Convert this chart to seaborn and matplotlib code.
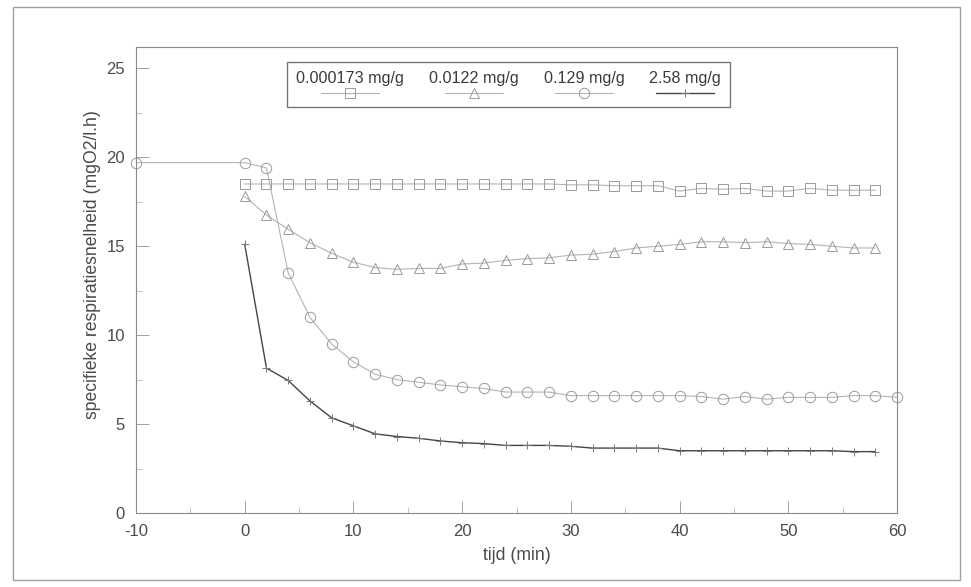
import matplotlib
matplotlib.use("Agg")
import matplotlib.pyplot as plt
import seaborn as sns
import numpy as np
import pandas as pd
from matplotlib.patches import Rectangle
from matplotlib.offsetbox import VPacker
from matplotlib.ticker import MultipleLocator

# ---------------- data ----------------
labels = ["0.000173 mg/g", "0.0122 mg/g", "0.129 mg/g", "2.58 mg/g"]

x_sq = [0, 2, 4, 6, 8, 10, 12, 14, 16, 18, 20, 22, 24, 26, 28, 30, 32, 34, 36, 38,
        40, 42, 44, 46, 48, 50, 52, 54, 56, 58]
y_sq = [18.5, 18.5, 18.5, 18.5, 18.5, 18.5, 18.5, 18.5, 18.5, 18.5, 18.5, 18.5, 18.5, 18.5, 18.5,
        18.45, 18.45, 18.4, 18.4, 18.4, 18.1, 18.25, 18.2, 18.25, 18.1, 18.1, 18.25, 18.15, 18.15, 18.15]

x_tri = [0, 2, 4, 6, 8, 10, 12, 14, 16, 18, 20, 22, 24, 26, 28, 30, 32, 34, 36, 38,
         40, 42, 44, 46, 48, 50, 52, 54, 56, 58]
y_tri = [17.8, 16.75, 15.95, 15.2, 14.6, 14.1, 13.8, 13.7, 13.75, 13.75, 14.0, 14.05, 14.2, 14.3,
         14.35, 14.5, 14.55, 14.7, 14.9, 15.0, 15.1, 15.25, 15.25, 15.2, 15.25, 15.15, 15.1, 15.0,
         14.9, 14.9]

x_circ = [-10, 0, 2, 4, 6, 8, 10, 12, 14, 16, 18, 20, 22, 24, 26, 28, 30, 32, 34, 36, 38,
          40, 42, 44, 46, 48, 50, 52, 54, 56, 58, 60]
y_circ = [19.7, 19.7, 19.4, 13.5, 11.0, 9.5, 8.5, 7.8, 7.5, 7.35, 7.2, 7.1, 7.0, 6.8, 6.8, 6.8,
          6.6, 6.6, 6.6, 6.6, 6.6, 6.6, 6.55, 6.4, 6.55, 6.4, 6.5, 6.5, 6.5, 6.6, 6.6, 6.5]

x_dot = [0, 2, 4, 6, 8, 10, 12, 14, 16, 18, 20, 22, 24, 26, 28, 30, 32, 34, 36, 38,
         40, 42, 44, 46, 48, 50, 52, 54, 56, 58]
y_dot = [15.1, 8.15, 7.45, 6.3, 5.35, 4.9, 4.45, 4.3, 4.2, 4.05, 3.95, 3.9, 3.8, 3.8, 3.8, 3.75,
         3.65, 3.65, 3.65, 3.65, 3.5, 3.5, 3.5, 3.5, 3.5, 3.5, 3.5, 3.5, 3.45, 3.45]

x_ticks = [-10, 0, 10, 20, 30, 40, 50, 60]
y_ticks = [0, 5, 10, 15, 20, 25]

# ---------------- style ----------------
sns.set_style("ticks")
plt.rcParams["font.family"] = ["Liberation Sans", "DejaVu Sans"]
plt.rcParams["axes.unicode_minus"] = False
txt = "#4a4a4a"

fig = plt.figure(figsize=(9.71, 5.87), dpi=100)
ax = fig.add_axes([136 / 971, 1 - 513 / 587, (897 - 136) / 971, (513 - 47) / 587])

light = "#b4b4b4"
medge = "#9a9a9a"

sns.lineplot(x=x_sq, y=y_sq, ax=ax, label=labels[0], color=light, lw=0.8,
             marker="s", markersize=6.5, markerfacecolor="none", markeredgecolor=medge,
             markeredgewidth=0.7, sort=False)
sns.lineplot(x=x_tri, y=y_tri, ax=ax, label=labels[1], color=light, lw=0.8,
             marker="^", markersize=7.5, markerfacecolor="none", markeredgecolor=medge,
             markeredgewidth=0.7, sort=False)
sns.lineplot(x=x_circ, y=y_circ, ax=ax, label=labels[2], color=light, lw=0.8,
             marker="o", markersize=7.5, markerfacecolor="none", markeredgecolor=medge,
             markeredgewidth=0.7, sort=False, clip_on=False)
sns.lineplot(x=x_dot, y=y_dot, ax=ax, label=labels[3], color="#454545", lw=1.0,
             marker="+", markersize=6, markeredgecolor="#7a7a7a",
             markeredgewidth=0.7, sort=False)

ax.set_xlim(-10, 60)
ax.set_ylim(0, 26.2)
ax.set_xticks(x_ticks)
ax.set_yticks(y_ticks)
ax.xaxis.set_minor_locator(MultipleLocator(5))
ax.yaxis.set_minor_locator(MultipleLocator(2.5))
ax.tick_params(axis="both", which="major", direction="in", length=9, width=0.7,
               color="#a0a0a0", labelsize=12, labelcolor=txt, pad=8)
ax.tick_params(axis="both", which="minor", direction="in", length=4, width=0.6,
               color="#b8b8b8")
for s in ax.spines.values():
    s.set_color("#8a8a8a")
    s.set_linewidth(0.8)

ax.set_xlabel("tijd (min)", fontsize=12.7, color=txt, labelpad=6)
ax.set_ylabel("specifieke respiratiesnelheid (mgO2/l.h)", fontsize=12.7, color=txt)
ax.yaxis.set_label_coords(-0.046, 0.534)

leg = ax.legend(loc="upper center", bbox_to_anchor=(0.4895, 0.968), ncol=4,
                fontsize=11.6, frameon=True, fancybox=False, edgecolor="#555555",
                handlelength=3.6, columnspacing=1.55, borderpad=0.55, borderaxespad=0)
leg.get_frame().set_linewidth(1.0)
for t in leg.get_texts():
    t.set_color("#3a3a3a")
try:
    for col in leg._legend_handle_box.get_children():
        for item in col.get_children():
            item._children = list(item._children)[::-1]
            item.__class__ = VPacker
            item.align = "center"
            item.sep = 1
except Exception:
    pass

# outer frame of the scanned figure
fig.patches.append(Rectangle((13 / 971, 1 - 580 / 587), (960 - 13) / 971, (580 - 7) / 587,
                             transform=fig.transFigure, fill=False, ec="#a0a0a0", lw=1.0))

fig.savefig("out.png", dpi=100)
